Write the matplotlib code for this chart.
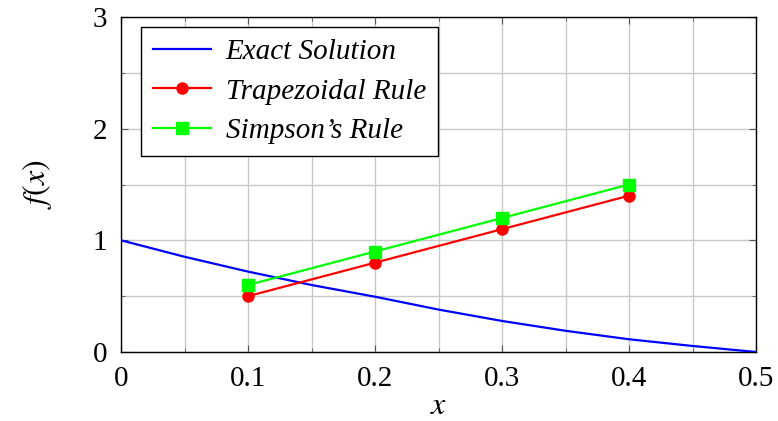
import numpy as np
import matplotlib
matplotlib.use("Agg")
import matplotlib.pyplot as plt
from matplotlib.ticker import MultipleLocator

plt.rcParams["font.family"] = ["Liberation Serif", "DejaVu Serif"]
plt.rcParams["mathtext.fontset"] = "stix"

# exact solution
x_exact = [0.0, 0.05, 0.1, 0.15, 0.2, 0.25, 0.3, 0.35, 0.4, 0.45, 0.5]
y_exact = [1.0, 0.853, 0.72, 0.60, 0.495, 0.38, 0.278, 0.19, 0.114, 0.054, 0.0]

x_nodes = [0.1, 0.2, 0.3, 0.4]
y_trap = [0.5, 0.8, 1.1, 1.4]
y_simp = [0.6, 0.9, 1.2, 1.5]

fig = plt.figure(figsize=(7.78, 4.21), dpi=100)
ax = fig.add_axes([121 / 778, 1 - 352 / 421, 635 / 778, 335 / 421])

ax.plot(x_exact, y_exact, color="blue", lw=1.6, label="Exact Solution", zorder=3)
ax.plot(x_nodes, y_trap, color="red", lw=1.6, marker="o", ms=8, label="Trapezoidal Rule", zorder=3)
ax.plot(x_nodes, y_simp, color="#00ff00", lw=1.6, marker="s", ms=8, label="Simpson\u2019s Rule", zorder=3)

ax.set_xlim(0, 0.5)
ax.set_ylim(0, 3)
ax.xaxis.set_minor_locator(MultipleLocator(0.05))
ax.yaxis.set_major_locator(MultipleLocator(1))
ax.yaxis.set_minor_locator(MultipleLocator(0.5))
ax.set_xticks([0, 0.1, 0.2, 0.3, 0.4, 0.5])
ax.set_xticklabels(["0", "0.1", "0.2", "0.3", "0.4", "0.5"])
ax.grid(True, which="both", color="#c8c8c8", lw=1.0, zorder=0)
ax.set_axisbelow(True)
ax.tick_params(which="both", direction="in", top=True, right=True, labelsize=21, color="#555555")
ax.tick_params(which="major", length=5)
ax.tick_params(which="minor", length=3)
ax.tick_params(axis="x", pad=10)
ax.tick_params(axis="y", pad=10)
for s in ax.spines.values():
    s.set_linewidth(1.0)

ax.set_xlabel("$x$", fontsize=23, labelpad=0)
ax.set_ylabel("$f(x)$", fontsize=23, labelpad=28)

leg = ax.legend(loc="upper left", bbox_to_anchor=(20 / 635, 325 / 335), borderaxespad=0,
                prop={"size": 21, "style": "italic"},
                fancybox=False, edgecolor="black", framealpha=1, handlelength=2.0,
                borderpad=0.4, labelspacing=0.45, handletextpad=0.5)
leg.get_frame().set_linewidth(1.0)

fig.savefig("out.png", dpi=100)
